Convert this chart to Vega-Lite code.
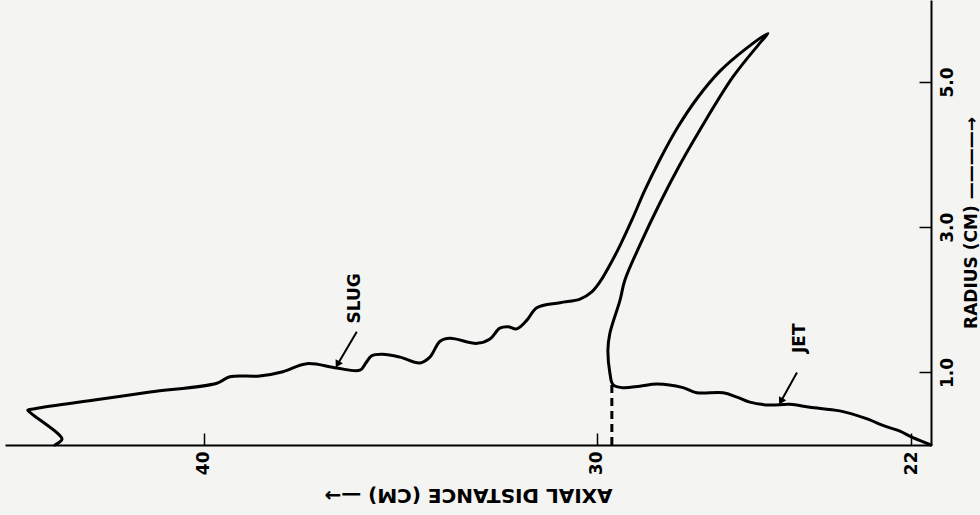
{
  "$schema": "https://vega.github.io/schema/vega-lite/v6.json",
  "width": 926,
  "height": 445,
  "autosize": "none",
  "padding": {"left": 5, "top": 0, "right": 49, "bottom": 70},
  "background": "#f4f4f2",
  "config": {"view": {"stroke": null}, "font": "DejaVu Sans"},
  "datasets": {
    "outline": [
      {"i": 1, "ax": 43.79, "r": 0.0},
      {"i": 2, "ax": 43.61, "r": 0.08},
      {"i": 2.3, "ax": 43.7, "r": 0.15},
      {"i": 2.6, "ax": 44.38, "r": 0.43},
      {"i": 3, "ax": 44.48, "r": 0.48},
      {"i": 3.5, "ax": 44.3, "r": 0.5},
      {"i": 4, "ax": 42.65, "r": 0.63},
      {"i": 5, "ax": 41.37, "r": 0.73},
      {"i": 6, "ax": 39.67, "r": 0.85},
      {"i": 7, "ax": 39.34, "r": 0.94},
      {"i": 8, "ax": 38.58, "r": 0.95},
      {"i": 9, "ax": 37.99, "r": 1.01},
      {"i": 10, "ax": 37.38, "r": 1.12},
      {"i": 11, "ax": 36.62, "r": 1.06},
      {"i": 12, "ax": 36.03, "r": 1.03},
      {"i": 13, "ax": 35.88, "r": 1.13},
      {"i": 14, "ax": 35.73, "r": 1.23},
      {"i": 15, "ax": 35.45, "r": 1.25},
      {"i": 16, "ax": 35.01, "r": 1.21},
      {"i": 17, "ax": 34.5, "r": 1.13},
      {"i": 18, "ax": 34.25, "r": 1.21},
      {"i": 19, "ax": 33.99, "r": 1.43},
      {"i": 20, "ax": 33.74, "r": 1.47},
      {"i": 21, "ax": 33.05, "r": 1.4},
      {"i": 22, "ax": 32.72, "r": 1.46},
      {"i": 23, "ax": 32.47, "r": 1.61},
      {"i": 24, "ax": 32.26, "r": 1.63},
      {"i": 25, "ax": 32.04, "r": 1.6},
      {"i": 26, "ax": 31.78, "r": 1.72},
      {"i": 27, "ax": 31.53, "r": 1.89},
      {"i": 28, "ax": 30.94, "r": 1.96},
      {"i": 29, "ax": 30.43, "r": 2.01},
      {"i": 30, "ax": 30.13, "r": 2.11},
      {"i": 31, "ax": 29.92, "r": 2.25},
      {"i": 32, "ax": 29.67, "r": 2.48},
      {"i": 33, "ax": 29.41, "r": 2.75},
      {"i": 34, "ax": 29.11, "r": 3.1},
      {"i": 35, "ax": 28.78, "r": 3.51},
      {"i": 36, "ax": 28.4, "r": 3.93},
      {"i": 37, "ax": 27.94, "r": 4.38},
      {"i": 38, "ax": 27.43, "r": 4.79},
      {"i": 39, "ax": 26.87, "r": 5.15},
      {"i": 40, "ax": 26.23, "r": 5.45},
      {"i": 41, "ax": 25.65, "r": 5.67},
      {"i": 42, "ax": 25.85, "r": 5.54},
      {"i": 43, "ax": 26.54, "r": 5.07},
      {"i": 44, "ax": 27.38, "r": 4.34},
      {"i": 45, "ax": 27.89, "r": 3.86},
      {"i": 46, "ax": 28.4, "r": 3.33},
      {"i": 47, "ax": 28.91, "r": 2.75},
      {"i": 48, "ax": 29.29, "r": 2.27},
      {"i": 49, "ax": 29.41, "r": 2.0},
      {"i": 50, "ax": 29.67, "r": 1.54},
      {"i": 51, "ax": 29.72, "r": 1.31},
      {"i": 52, "ax": 29.67, "r": 0.99},
      {"i": 53, "ax": 29.59, "r": 0.83},
      {"i": 54, "ax": 29.36, "r": 0.79},
      {"i": 55, "ax": 28.91, "r": 0.81},
      {"i": 56, "ax": 28.47, "r": 0.84},
      {"i": 57, "ax": 27.81, "r": 0.79},
      {"i": 58, "ax": 27.46, "r": 0.72},
      {"i": 59, "ax": 26.79, "r": 0.72},
      {"i": 60, "ax": 26.44, "r": 0.66},
      {"i": 61, "ax": 26.11, "r": 0.59},
      {"i": 62, "ax": 25.6, "r": 0.55},
      {"i": 63, "ax": 25.09, "r": 0.56},
      {"i": 64, "ax": 24.58, "r": 0.52},
      {"i": 65, "ax": 23.82, "r": 0.47},
      {"i": 66, "ax": 23.18, "r": 0.37},
      {"i": 67, "ax": 22.67, "r": 0.26},
      {"i": 68, "ax": 22.29, "r": 0.19},
      {"i": 69, "ax": 21.96, "r": 0.1},
      {"i": 70, "ax": 21.5, "r": 0.0}
    ],
    "dashed": [{"ax": 29.62, "r": 0.0, "r2": 0.83}],
    "labels": [
      {"label": "SLUG", "ax": 36.16, "r": 2.02},
      {"label": "JET", "ax": 24.83, "r": 1.47}
    ],
    "arrows": [
      {"ax": 36.11, "r": 1.56, "ax2": 36.6, "r2": 1.11},
      {"ax": 24.91, "r": 1.0, "ax2": 25.32, "r2": 0.6}
    ]
  },
  "layer": [
    {
      "data": {"name": "outline"},
      "mark": {"type": "line", "color": "black", "strokeWidth": 3, "strokeJoin": "round", "strokeCap": "round", "interpolate": "catmull-rom"},
      "encoding": {
        "x": {
          "field": "ax", "type": "quantitative",
          "scale": {"domain": [21.5, 45.06], "reverse": true, "nice": false, "zero": false},
          "axis": {
            "values": [40, 30, 22], "format": "d", "grid": false,
            "title": "AXIAL DISTANCE (CM) —→", "titleAngle": 180, "titleBaseline": "bottom",
            "titleFontSize": 20, "titleFontWeight": "bold", "titleColor": "black", "titlePadding": 10,
            "labelAngle": 270, "labelFontSize": 17, "labelFontWeight": "bold", "labelColor": "black",
            "labelPadding": 18, "tickSize": -12, "tickColor": "black", "tickWidth": 1.5,
            "domainColor": "black", "domainWidth": 2
          }
        },
        "y": {
          "field": "r", "type": "quantitative",
          "scale": {"domain": [0, 6.13], "nice": false, "zero": false},
          "axis": {
            "orient": "right", "values": [1, 3, 5], "format": ".1f", "grid": false,
            "title": "RADIUS (CM) ————→", "titleAngle": 270, "titleBaseline": "top",
            "titleFontSize": 17, "titleFontWeight": "bold", "titleColor": "black", "titlePadding": 8,
            "labelAngle": 270, "labelAlign": "center", "labelBaseline": "top",
            "labelFontSize": 17, "labelFontWeight": "bold", "labelColor": "black",
            "labelPadding": 20, "tickSize": -12, "tickColor": "black", "tickWidth": 1.5,
            "domainColor": "black", "domainWidth": 2
          }
        },
        "order": {"field": "i", "type": "quantitative"}
      }
    },
    {
      "data": {"name": "dashed"},
      "mark": {"type": "rule", "color": "black", "strokeWidth": 3, "strokeDash": [8, 5]},
      "encoding": {
        "x": {"field": "ax", "type": "quantitative"},
        "y": {"field": "r", "type": "quantitative"},
        "y2": {"field": "r2"}
      }
    },
    {
      "data": {"name": "labels"},
      "mark": {"type": "text", "angle": 270, "fontSize": 17, "fontWeight": "bold", "color": "black", "align": "center", "baseline": "middle"},
      "encoding": {
        "x": {"field": "ax", "type": "quantitative"},
        "y": {"field": "r", "type": "quantitative"},
        "text": {"field": "label"}
      }
    },
    {
      "data": {"name": "arrows"},
      "mark": {"type": "rule", "color": "black", "strokeWidth": 2},
      "encoding": {
        "x": {"field": "ax", "type": "quantitative"},
        "y": {"field": "r", "type": "quantitative"},
        "x2": {"field": "ax2"},
        "y2": {"field": "r2"}
      }
    },
    {
      "data": {"name": "arrows"},
      "mark": {"type": "point", "shape": "triangle-up", "angle": 209, "size": 70, "filled": true, "color": "black", "opacity": 1},
      "encoding": {
        "x": {"field": "ax2", "type": "quantitative"},
        "y": {"field": "r2", "type": "quantitative"}
      }
    }
  ]
}
